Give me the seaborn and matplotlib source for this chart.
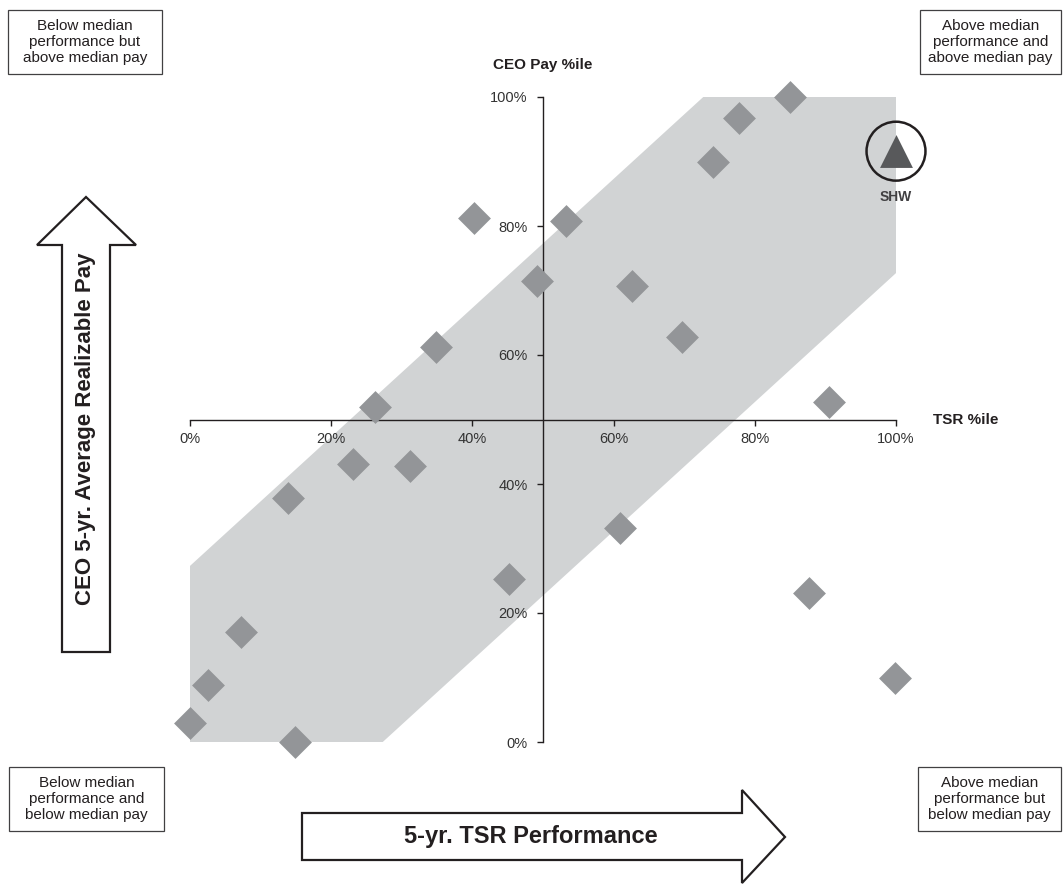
import numpy as np
import pandas as pd
import seaborn as sns
import matplotlib
matplotlib.use('Agg')
import matplotlib.pyplot as plt
from matplotlib.patches import Polygon, Rectangle
from matplotlib.ticker import PercentFormatter

# 데이터 (TSR %ile, CEO Pay %ile)
peer_tsr = [0.0, 2.5, 7.2, 14.9, 13.9, 23.1, 26.2, 31.2, 34.8, 40.2, 45.2,
            49.2, 53.3, 60.9, 62.6, 69.7, 74.1, 77.8, 85.0, 90.5, 87.7, 99.9]
peer_pay = [2.9, 8.8, 17.0, 0.0, 37.8, 43.1, 51.9, 42.8, 61.2, 81.2, 25.3,
            71.5, 80.8, 33.2, 70.7, 62.8, 89.9, 96.7, 100.0, 52.7, 23.1, 9.9]
shw_tsr = [100.0]
shw_pay = [91.6]
shw_name = 'SHW'

# 회색 밴드 꼭짓점
band_x = [0, 27.3, 100, 100, 72.7, 0]
band_y = [0, 0, 72.7, 100, 100, 27.3]

ticks = [0, 20, 40, 60, 80, 100]

corner_texts = {
    'tl': 'Below median\nperformance but\nabove median pay',
    'tr': 'Above median\nperformance and\nabove median pay',
    'bl': 'Below median\nperformance and\nbelow median pay',
    'br': 'Above median\nperformance but\nbelow median pay',
}
x_title = '5-yr. TSR Performance'
y_title = 'CEO 5-yr. Average Realizable Pay'
x_axis_name = 'TSR %ile'
y_axis_name = 'CEO Pay %ile'

df_peer = pd.DataFrame({'TSR': peer_tsr, 'Pay': peer_pay})
df_shw = pd.DataFrame({'TSR': shw_tsr, 'Pay': shw_pay})

sns.set_style('white')
plt.rcParams['font.family'] = ['Liberation Sans', 'DejaVu Sans']

W, H = 1063, 884
fig = plt.figure(figsize=(W / 100, H / 100), dpi=100)


def fx(px):
    return px / W


def fy(py):
    return 1 - py / H


TXT = '#231f20'

ax = fig.add_axes([fx(190), fy(742), fx(896) - fx(190), fy(97) - fy(742)])
ax.set_xlim(0, 100)
ax.set_ylim(0, 100)
ax.set_axisbelow(False)

ax.fill(band_x, band_y, color='#d1d3d4', lw=0, zorder=1)

sns.scatterplot(data=df_peer, x='TSR', y='Pay', marker='D', s=280,
                color='#939598', linewidth=0, clip_on=False, zorder=4, ax=ax)
sns.scatterplot(data=df_shw, x='TSR', y='Pay', marker='^', s=560,
                color='#58595b', linewidth=0, clip_on=False, zorder=5, ax=ax)
ax.scatter(shw_tsr, shw_pay, marker='o', s=1800, facecolors='none',
           edgecolors=TXT, linewidths=1.8, clip_on=False, zorder=6)
ax.annotate(shw_name, (shw_tsr[0], shw_pay[0]), xytext=(0, -33),
            textcoords='offset points', ha='center', va='center',
            fontsize=10, fontweight='bold', color='#414042')

# 축 가운데로
for side in ['top', 'right']:
    ax.spines[side].set_visible(False)
for side in ['left', 'bottom']:
    ax.spines[side].set_position(('data', 50))
    ax.spines[side].set_color(TXT)
    ax.spines[side].set_linewidth(1.0)
    ax.spines[side].set_zorder(2)

ax.set_xticks(ticks)
ax.set_yticks(ticks)
ax.xaxis.set_major_formatter(PercentFormatter(100, decimals=0))
ax.yaxis.set_major_formatter(PercentFormatter(100, decimals=0))
ax.tick_params(axis='both', direction='out', length=4, width=1.0,
               color=TXT, labelcolor='#333333', labelsize=10.5)
ax.tick_params(axis='x', pad=5)
ax.tick_params(axis='y', pad=7)
ax.xaxis.set_ticks_position('bottom')
ax.yaxis.set_ticks_position('left')
ax.set_xlabel('')
ax.set_ylabel('')
ax.grid(False)

fig.text(fx(543), fy(65), y_axis_name, ha='center', va='center',
         fontsize=11, fontweight='bold', color=TXT)
fig.text(fx(966), fy(420), x_axis_name, ha='center', va='center',
         fontsize=11, fontweight='bold', color=TXT)

# 모서리 박스
boxes = {'tl': (8, 10, 162, 74), 'tr': (920, 10, 1061, 74),
         'bl': (9, 767, 164, 831), 'br': (918, 767, 1061, 831)}
for key, (x0, y0, x1, y1) in boxes.items():
    fig.patches.append(Rectangle((fx(x0), fy(y1)), fx(x1) - fx(x0), fy(y0) - fy(y1),
                                 transform=fig.transFigure, fill=False,
                                 edgecolor='#414042', lw=0.9))
    fig.text(fx((x0 + x1) / 2), fy((y0 + y1) / 2), corner_texts[key],
             ha='center', va='center', fontsize=11, color=TXT, linespacing=1.2)

# 큰 화살표
h_arrow = [(302, 813), (742, 813), (742, 790), (785, 837), (742, 883), (742, 860), (302, 860)]
v_arrow = [(62, 652), (110, 652), (110, 245), (136, 245), (86, 197), (37, 245), (62, 245)]
for pts in [h_arrow, v_arrow]:
    fig.patches.append(Polygon([(fx(p[0]), fy(p[1])) for p in pts], closed=True,
                               transform=fig.transFigure, facecolor='white',
                               edgecolor=TXT, lw=1.6))
fig.text(fx(531), fy(837), x_title, ha='center', va='center',
         fontsize=17, fontweight='bold', color=TXT)
fig.text(fx(86), fy(429), y_title, ha='center', va='center', rotation=90,
         fontsize=16, fontweight='bold', color=TXT)

plt.savefig('out.png', dpi=100)
